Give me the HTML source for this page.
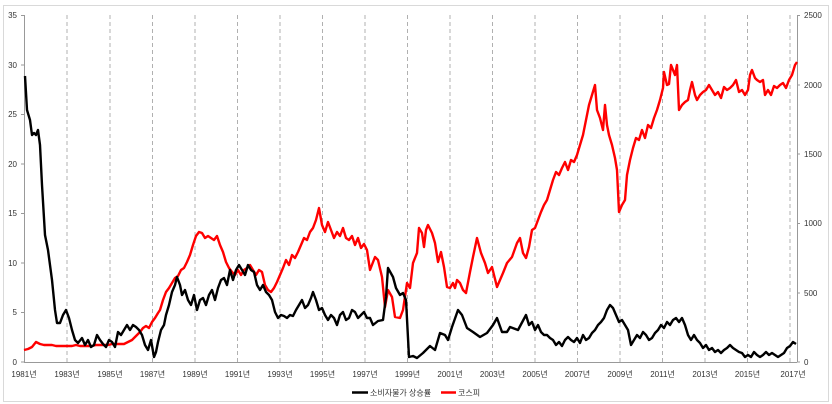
<!DOCTYPE html>
<html><head><meta charset="utf-8"><style>
html,body{margin:0;padding:0;background:#fff;}
svg{display:block;font-family:"Liberation Sans","Noto Sans CJK KR",sans-serif;}
</style></head><body>
<svg width="832" height="404" viewBox="0 0 832 404" xmlns="http://www.w3.org/2000/svg">
<rect x="3.5" y="5.5" width="825" height="396" fill="#fff" stroke="#d9d9d9"/>
<g stroke="#b0b0b0" stroke-dasharray="4,3" stroke-width="1">
<line x1="67" y1="15" x2="67" y2="362"/><line x1="110" y1="15" x2="110" y2="362"/>
<line x1="152.5" y1="15" x2="152.5" y2="362"/><line x1="195" y1="15" x2="195" y2="362"/>
<line x1="237.5" y1="15" x2="237.5" y2="362"/><line x1="280" y1="15" x2="280" y2="362"/>
<line x1="322.5" y1="15" x2="322.5" y2="362"/><line x1="365" y1="15" x2="365" y2="362"/>
<line x1="407.5" y1="15" x2="407.5" y2="362"/><line x1="450" y1="15" x2="450" y2="362"/>
<line x1="492.5" y1="15" x2="492.5" y2="362"/><line x1="535" y1="15" x2="535" y2="362"/>
<line x1="577.5" y1="15" x2="577.5" y2="362"/><line x1="620" y1="15" x2="620" y2="362"/>
<line x1="662.5" y1="15" x2="662.5" y2="362"/><line x1="705" y1="15" x2="705" y2="362"/>
<line x1="747.5" y1="15" x2="747.5" y2="362"/><line x1="790" y1="15" x2="790" y2="362"/>
</g>
<g stroke="#999" stroke-width="1">
<line x1="24.5" y1="15" x2="24.5" y2="362"/>
<line x1="797.5" y1="15" x2="797.5" y2="362"/>
<line x1="24" y1="362.5" x2="797" y2="362.5"/>
<line x1="21" y1="15.5" x2="24" y2="15.5"/><line x1="21" y1="65" x2="24" y2="65"/><line x1="21" y1="114.5" x2="24" y2="114.5"/><line x1="21" y1="164" x2="24" y2="164"/><line x1="21" y1="213.5" x2="24" y2="213.5"/><line x1="21" y1="263" x2="24" y2="263"/><line x1="21" y1="312.5" x2="24" y2="312.5"/><line x1="21" y1="362" x2="24" y2="362"/>
<line x1="797" y1="15.5" x2="800" y2="15.5"/><line x1="797" y1="85" x2="800" y2="85"/><line x1="797" y1="154" x2="800" y2="154"/><line x1="797" y1="223.5" x2="800" y2="223.5"/><line x1="797" y1="293" x2="800" y2="293"/><line x1="797" y1="362" x2="800" y2="362"/>
</g>
<g font-size="8" fill="#333" text-anchor="end">
<text x="17" y="18">35</text><text x="17" y="68">30</text><text x="17" y="117">25</text><text x="17" y="167">20</text><text x="17" y="216">15</text><text x="17" y="266">10</text><text x="17" y="315">5</text><text x="17" y="365">0</text>
</g>
<g font-size="8" fill="#333" text-anchor="start">
<text x="804" y="18">2500</text><text x="804" y="88">2000</text><text x="804" y="157">1500</text><text x="804" y="226">1000</text><text x="804" y="296">500</text><text x="804" y="365">0</text>
</g>
<g font-size="8" fill="#333" text-anchor="middle">
<text x="24" y="377">1981년</text><text x="67" y="377">1983년</text><text x="110" y="377">1985년</text><text x="152.5" y="377">1987년</text><text x="195" y="377">1989년</text><text x="237.5" y="377">1991년</text><text x="280" y="377">1993년</text><text x="322.5" y="377">1995년</text><text x="365" y="377">1997년</text><text x="407.5" y="377">1999년</text><text x="450" y="377">2001년</text><text x="492.5" y="377">2003년</text><text x="535" y="377">2005년</text><text x="577.5" y="377">2007년</text><text x="620" y="377">2009년</text><text x="662.5" y="377">2011년</text><text x="705" y="377">2013년</text><text x="747.5" y="377">2015년</text><text x="793" y="377">2017년</text>
</g>
<polyline fill="none" stroke="#ff0000" stroke-width="2.4" stroke-linejoin="round" points="24,350 28,349 32,347 36,342 40,344 44,345 48,345 52,345 56,346 60,346 64,346 68,346 72,346 76,345 80,346 84,346 88,346 92,346 96,345 100,345 104,345 108,345 112,344 116,344 120,344 124,344 128,342 132,340 136,336 140,332 143,328 146,326 149,328 152,322 155,318 158,313 160,310 163,300 166,292 169,288 172,283 175,278 178,276 181,270 184,268 187,262 190,255 193,245 196,236 199,232 202,233 205,238 208,236 211,238 214,240 217,236 220,245 223,252 226,262 229,268 232,272 235,275 238,270 241,275 244,270 247,268 250,265 253,270 256,275 259,270 262,272 265,285 268,290 271,292 274,288 277,282 280,275 283,268 286,260 289,265 292,255 295,258 298,252 301,245 304,238 307,240 310,232 313,228 316,220 319,208 322,225 325,232 328,222 331,230 334,238 337,232 340,236 343,228 346,238 349,240 352,236 355,245 358,238 361,248 364,244 367,250 370,270 375,257 378,260 382,277 385,307 388,290 392,297 395,317 400,318 403,310 407,283 410,288 413,263 417,253 419,228 422,233 424,247 426,230 428,225 432,233 435,243 438,262 441,252 444,267 447,287 450,288 453,283 455,288 457,280 460,283 463,290 466,293 470,272 473,257 477,238 481,253 485,263 488,273 492,267 497,287 503,273 507,263 512,257 517,243 520,238 523,253 526,258 529,247 532,230 535,228 538,220 541,212 544,205 547,200 550,190 553,180 556,172 559,175 562,168 565,162 568,170 571,160 574,162 577,155 580,145 583,135 586,120 589,105 592,95 595,85 597,110 600,118 603,130 605,105 607,125 609,135 612,145 615,158 617,170 619,212 622,205 625,200 627,175 630,160 633,148 636,138 639,140 642,130 645,138 648,125 651,128 654,118 657,110 660,100 663,88 664,72 667,85 669,84 671,65 673,70 675,75 677,65 679,110 682,105 685,102 688,100 690,90 692,82 695,95 697,100 700,95 703,92 706,90 709,85 712,90 715,95 718,92 721,98 724,87 727,90 730,88 733,85 736,80 739,92 742,90 745,95 748,90 750,75 752,70 755,78 757,80 760,82 763,80 765,95 768,90 771,95 774,86 777,88 780,85 783,83 786,88 789,80 792,75 795,65 797,62"/>
<polyline fill="none" stroke="#000" stroke-width="2.4" stroke-linejoin="round" points="25,76 27,110 30,120 32,135 34,133 36,135 38,130 40,145 42,185 45,235 48,250 52,280 55,310 57,323 60,323 63,315 66,310 69,318 72,330 75,340 78,343 82,338 85,345 88,340 91,347 94,345 97,335 100,340 103,344 106,347 109,340 112,342 115,347 118,332 121,335 124,330 127,325 130,330 133,325 136,327 139,330 142,335 145,345 148,350 151,340 154,357 156,352 158,342 161,330 164,325 166,315 169,305 172,292 175,285 177,277 180,285 182,295 185,290 188,300 191,305 194,295 197,310 200,300 203,298 206,305 209,295 212,290 215,300 218,288 221,280 224,278 227,285 230,270 233,280 236,270 239,265 242,270 245,275 248,265 251,270 254,272 257,285 260,290 263,285 266,292 269,295 272,300 275,312 278,318 281,315 284,316 287,318 290,315 293,316 296,310 299,305 302,300 305,308 308,305 311,298 313,292 316,300 319,310 322,308 325,315 328,320 331,315 334,318 337,325 340,315 343,312 346,320 349,318 352,310 355,312 358,318 361,315 364,312 367,318 370,318 373,325 378,321 383,320 386,297 388,268 393,277 396,288 400,295 403,293 406,300 409,357 413,356 417,358 423,353 430,346 435,350 440,333 445,335 448,340 452,327 458,310 462,315 467,328 473,332 480,337 487,333 493,325 497,318 502,332 507,332 510,327 518,330 526,315 529,325 532,322 535,330 538,325 541,332 544,335 547,335 550,338 553,340 556,345 559,342 562,346 565,340 568,337 571,340 574,342 577,338 580,343 583,335 586,340 589,338 592,333 595,330 598,325 601,322 604,318 607,310 610,305 613,308 616,315 619,322 622,320 625,325 628,330 631,345 634,340 637,335 640,338 643,332 646,335 649,340 652,338 655,333 658,330 661,325 664,328 667,322 670,325 673,320 676,318 679,322 682,318 685,325 688,335 691,340 694,335 697,340 700,343 703,348 706,345 709,350 712,348 715,352 718,350 721,353 724,350 727,348 730,345 733,348 736,350 739,352 742,353 745,357 748,355 751,357 754,352 757,355 760,357 763,355 766,352 769,355 772,353 775,355 778,357 781,355 784,353 787,348 790,346 793,342 796,344"/>
<line x1="352" y1="392.5" x2="368" y2="392.5" stroke="#000" stroke-width="2.5"/>
<text x="370" y="395.5" font-size="8" fill="#333">소비자물가 상승률</text>
<line x1="441" y1="392.5" x2="456" y2="392.5" stroke="#f00" stroke-width="2.5"/>
<text x="458" y="395.5" font-size="8" fill="#333">코스피</text>
</svg>
</body></html>
